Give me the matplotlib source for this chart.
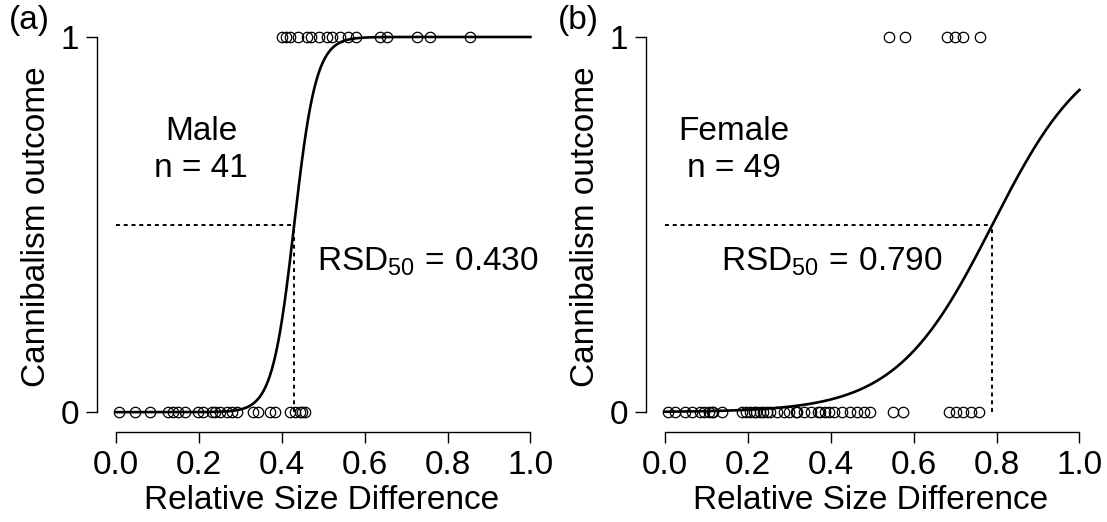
import numpy as np
import matplotlib

matplotlib.use("Agg")
import matplotlib.pyplot as plt

plt.rcParams["font.family"] = ["Liberation Sans", "DejaVu Sans"]
plt.rcParams["mathtext.fontset"] = "custom"
plt.rcParams["mathtext.rm"] = "Liberation Sans"
plt.rcParams["mathtext.it"] = "Liberation Sans"

# relative size difference of each trial, split by outcome (0 = no cannibalism, 1 = cannibalism)
male_zero = [0.007, 0.046, 0.082, 0.126, 0.138, 0.150, 0.167, 0.198, 0.210, 0.232,
             0.239, 0.251, 0.268, 0.280, 0.292, 0.331, 0.343, 0.372, 0.384, 0.420,
             0.432, 0.444, 0.457, 0.450]
male_one = [0.40, 0.41, 0.42, 0.44, 0.46, 0.47, 0.49, 0.51, 0.52, 0.54,
            0.56, 0.58, 0.638, 0.655, 0.727, 0.758, 0.855]
female_zero = [0.007, 0.024, 0.048, 0.065, 0.085, 0.095, 0.105, 0.113, 0.116, 0.138,
               0.186, 0.196, 0.206, 0.215, 0.220, 0.228, 0.237, 0.247, 0.254, 0.271,
               0.288, 0.300, 0.315, 0.319, 0.336, 0.353, 0.370, 0.375, 0.385, 0.395,
               0.407, 0.428, 0.446, 0.462, 0.479, 0.494, 0.550, 0.575, 0.685, 0.702,
               0.719, 0.738, 0.757]
female_one = [0.54, 0.58, 0.68, 0.70, 0.72, 0.76]

# fitted logistic models: p = 1 / (1 + exp(-slope * (x - rsd50)))
male_rsd50, male_slope = 0.430, 38.0
female_rsd50, female_slope = 0.790, 8.6

panels = [
    ("(a)", "Male", 41, male_zero, male_one, male_rsd50, male_slope, "0.430",
     (0.205, 0.70), (0.485, 0.40)),
    ("(b)", "Female", 49, female_zero, female_one, female_rsd50, female_slope, "0.790",
     (0.165, 0.70), (0.135, 0.40)),
]

fig = plt.figure(figsize=(11.07, 5.22), dpi=100)
lefts = [0.0876, 0.5836]
FS = 24

for left, (tag, sex, n, zeros, ones, rsd50, slope, rsd_txt, name_xy, rsd_xy) in zip(lefts, panels):
    ax = fig.add_axes([left, 0.1724, 0.4065, 0.7855])
    ax.set_xlim(-0.046, 1.04)
    ax.set_ylim(-0.053, 1.04)

    ax.plot(zeros, np.zeros(len(zeros)), "o", mfc="none", mec="black", ms=7.5, mew=0.9)
    ax.plot(ones, np.ones(len(ones)), "o", mfc="none", mec="black", ms=7.5, mew=0.9)

    xs = np.linspace(0, 1, 400)
    ax.plot(xs, 1 / (1 + np.exp(-slope * (xs - rsd50))), color="black", lw=1.9)

    ax.plot([0, rsd50], [0.5, 0.5], color="black", lw=1.4, ls=(0, (2, 2)))
    ax.plot([rsd50, rsd50], [0, 0.5], color="black", lw=1.4, ls=(0, (2, 2)))

    ax.text(name_xy[0], name_xy[1], f"{sex}\nn = {n}", ha="center", va="center",
            fontsize=FS, linespacing=1.25)
    ax.text(rsd_xy[0], rsd_xy[1], r"RSD$_{50}$$\,=\,$" + rsd_txt, ha="left", va="center",
            fontsize=FS)

    for side in ("top", "right"):
        ax.spines[side].set_visible(False)
    ax.spines["left"].set_bounds(0, 1)
    ax.spines["bottom"].set_bounds(0, 1)
    for side in ("left", "bottom"):
        ax.spines[side].set_linewidth(1.0)

    ax.set_xticks([0.0, 0.2, 0.4, 0.6, 0.8, 1.0])
    ax.set_xticklabels(["0.0", "0.2", "0.4", "0.6", "0.8", "1.0"])
    ax.set_yticks([0, 1])
    ax.set_yticklabels(["0", "1"])
    ax.tick_params(labelsize=FS, length=8, width=1.0, pad=5)
    ax.set_xlabel("Relative Size Difference", fontsize=FS, labelpad=3)
    ax.set_ylabel("Cannibalism outcome", fontsize=FS, labelpad=6)

    fig.text(left - 0.08, 0.96, tag, fontsize=FS, ha="left", va="center")

fig.savefig("out.png", dpi=100)
